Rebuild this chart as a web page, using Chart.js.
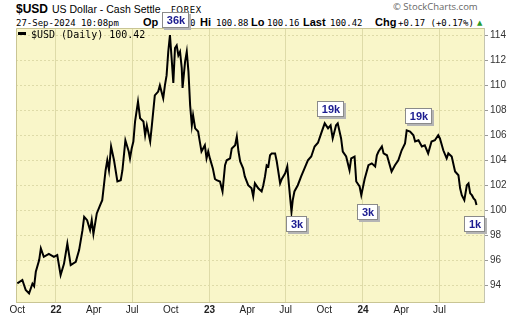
<!DOCTYPE html>
<html>
<head>
<meta charset="utf-8">
<script src="https://cdn.jsdelivr.net/npm/chart.js@4.4.1/dist/chart.umd.min.js"></script>
<style>
  body { margin: 0; background: #fff; }
  #wrap { position: relative; width: 520px; height: 318px; overflow: hidden; }
  #wrap canvas { position: absolute; left: 0; top: 0; z-index: 1; }
  .t { position: absolute; white-space: nowrap; z-index: 0; color: #000; }
  .b { font: bold 11px "Liberation Sans", Arial, sans-serif; line-height: 11px; top: 17px; }
  .n { font: 9px "DejaVu Sans Mono", monospace; line-height: 9px; top: 19px; }
  #legend { z-index: 2; left: 18px; top: 30px; font: 10px "DejaVu Sans Mono", monospace; line-height: 10px; }
  #legend i { display: inline-block; width: 8px; height: 3px; background: #000; vertical-align: 3px; margin-right: 5px; }
</style>
</head>
<body>
<div id="wrap">
  <span class="t" style="left:16px;top:3px;font:bold 12px 'Liberation Sans',Arial;line-height:12px">$USD</span>
  <span class="t" style="left:52px;top:4px;font:10.5px 'Liberation Sans',Arial;line-height:10.5px">US Dollar - Cash Settle</span>
  <span class="t" style="left:171px;top:6px;font:8.5px 'DejaVu Sans',Verdana;line-height:8.5px;letter-spacing:0.4px">FOREX</span>
  <span class="t" style="left:393px;top:2px;font:9.5px 'Open Sans',sans-serif;line-height:9.5px;color:#666">© StockCharts.com</span>
  <span class="t n" style="left:16px">27-Sep-2024 10:08pm</span>
  <span class="t b" style="left:143px">Op</span>
  <span class="t n" style="left:163px">100.30</span>
  <span class="t b" style="left:200px">Hi</span>
  <span class="t n" style="left:216px">100.88</span>
  <span class="t b" style="left:251px">Lo</span>
  <span class="t n" style="left:267px">100.16</span>
  <span class="t b" style="left:303px">Last</span>
  <span class="t n" style="left:330px">100.42</span>
  <span class="t b" style="left:375px">Chg</span>
  <span class="t n" style="left:398px">+0.17 (+0.17%)</span>
  <span class="t" style="left:477px;top:20px;font:7px 'DejaVu Sans';line-height:7px;color:#2a9a2a">▲</span>
  <span class="t" id="legend"><i></i>$USD (Daily) 100.42</span>
  <canvas id="chart" width="520" height="318"></canvas>
</div>
<script>
// daily close readings of $USD
var dates = [
  '2021-10-01','2021-10-13','2021-10-21','2021-10-29','2021-11-06','2021-11-10','2021-11-14','2021-11-22','2021-11-26',
  '2021-12-03','2021-12-15','2021-12-27','2022-01-04','2022-01-12','2022-01-20','2022-01-28','2022-02-05','2022-02-17',
  '2022-02-25','2022-03-05','2022-03-09','2022-03-16','2022-03-23','2022-03-27','2022-03-31','2022-04-08','2022-04-16',
  '2022-04-21','2022-04-29','2022-05-03','2022-05-07','2022-05-12','2022-05-19','2022-05-27','2022-06-04','2022-06-08',
  '2022-06-15','2022-06-23','2022-06-26','2022-06-30','2022-07-04','2022-07-08','2022-07-15','2022-07-20','2022-07-28',
  '2022-08-01','2022-08-05','2022-08-13','2022-08-17','2022-08-24','2022-09-01','2022-09-05','2022-09-13','2022-09-17',
  '2022-09-21','2022-09-25','2022-09-29','2022-10-03','2022-10-07','2022-10-11','2022-10-15','2022-10-19','2022-10-23',
  '2022-10-27','2022-10-29','2022-11-04','2022-11-08','2022-11-12','2022-11-16','2022-11-20','2022-11-23','2022-11-28',
  '2022-12-05','2022-12-09','2022-12-13','2022-12-21','2022-12-25','2022-12-29','2023-01-02','2023-01-09','2023-01-14',
  '2023-01-18','2023-01-26','2023-02-01','2023-02-07','2023-02-11','2023-02-19','2023-02-23','2023-03-03','2023-03-07',
  '2023-03-11','2023-03-15','2023-03-22','2023-03-26','2023-04-03','2023-04-11','2023-04-15','2023-04-19','2023-04-27',
  '2023-05-05','2023-05-09','2023-05-13','2023-05-17','2023-05-21','2023-05-25','2023-05-29','2023-06-06','2023-06-10',
  '2023-06-18','2023-06-22','2023-06-30','2023-07-05','2023-07-09','2023-07-15','2023-07-18','2023-07-22','2023-07-30',
  '2023-08-07','2023-08-15','2023-08-23','2023-08-31','2023-09-08','2023-09-16','2023-09-24','2023-10-02','2023-10-10',
  '2023-10-16','2023-10-21','2023-10-29','2023-11-02','2023-11-10','2023-11-14','2023-11-22','2023-11-30','2023-12-04',
  '2023-12-12','2023-12-16','2023-12-24','2023-12-28','2024-01-05','2024-01-14','2024-01-22','2024-01-30','2024-02-03',
  '2024-02-07','2024-02-15','2024-02-19','2024-02-27','2024-03-09','2024-03-17','2024-03-25','2024-04-02','2024-04-10',
  '2024-04-14','2024-04-22','2024-04-30','2024-05-04','2024-05-12','2024-05-20','2024-05-27','2024-06-04','2024-06-12',
  '2024-06-20','2024-06-28','2024-07-02','2024-07-10','2024-07-18','2024-07-22','2024-07-30','2024-08-07','2024-08-15',
  '2024-08-19','2024-08-23','2024-08-29','2024-09-04','2024-09-08','2024-09-12','2024-09-16','2024-09-20','2024-09-24',
  '2024-09-27'
];
var usd = [
  94.13, 94.4, 93.6, 93.33, 94.1, 93.9, 95.06, 96.0, 96.94,
  96.26, 96.5, 96.26, 96.4, 94.8, 95.7, 97.33, 95.6, 95.86,
  96.8, 98.4, 99.47, 99.2, 98.4, 99.2, 98.1, 99.74, 100.4,
  100.8, 103.2, 104.0, 103.2, 105.1, 104.0, 102.3, 102.4, 103.2,
  105.6, 104.7, 104.15, 104.95, 105.5, 107.1, 108.7, 107.36, 107.1,
  106.0, 106.8, 105.5, 106.8, 109.2, 109.5, 110.0, 108.96, 110.0,
  110.8, 112.7, 114.04, 112.17, 110.2, 113.0, 113.2, 112.4, 112.7,
  111.4, 109.8, 111.9, 112.7, 111.1, 108.4, 106.8, 107.6, 106.56,
  106.3, 105.5, 104.7, 105.2, 104.15, 104.7, 104.15, 103.35, 102.5,
  102.4, 102.3, 101.5, 103.6, 104.0, 104.15, 104.95, 105.2, 105.9,
  104.7, 103.9, 103.35, 102.7, 102.0, 101.75, 101.1, 102.15, 101.75,
  101.5, 102.0, 102.7, 103.6, 103.5, 104.4, 104.55, 104.55, 103.9,
  102.15, 102.5, 102.95, 103.5, 102.0, 99.87, 100.8, 101.5, 102.0,
  102.7, 103.35, 104.0, 104.3, 105.1, 105.4, 106.2, 106.96, 106.56,
  106.8, 105.75, 106.8, 106.96, 105.75, 104.7, 104.3, 103.2, 104.15,
  104.3, 102.3, 101.9, 101.2, 102.5, 103.6, 103.75, 103.5, 104.4,
  104.7, 105.1, 104.55, 104.4, 103.1, 103.6, 104.0, 104.8, 105.35,
  106.4, 106.3, 106.0, 105.5, 105.6, 105.1, 105.2, 104.55, 105.5,
  105.6, 106.0, 105.75, 104.8, 104.15, 104.55, 104.3, 103.1, 102.8,
  101.75, 101.2, 100.8, 102.0, 102.15, 101.35, 101.2, 100.95, 100.8,
  100.42
];

var tickDates = ['2021-10-01','2022-01-01','2022-04-01','2022-07-01','2022-10-01','2023-01-01',
                 '2023-04-01','2023-07-01','2023-10-01','2024-01-01','2024-04-01','2024-07-01'];
var tickLabels = ['Oct','22','Apr','Jul','Oct','23','Apr','Jul','Oct','24','Apr','Jul'];
var yTicks = [94, 96, 98, 100, 102, 104, 106, 108, 110, 112, 114];

// volume callouts
var noteDates = ['2022-09-29','2023-10-02','2023-07-15','2023-12-28','2024-04-14','2024-09-27'];
var noteText = ['36k','19k','3k','3k','19k','1k'];
var noteOffsets = [[6,-15],[6,-14],[6,12],[7,17],[12,-14],[-2,19]];

var BASE = Date.UTC(2022, 0, 1);
function dayNum(s) {
  var p = s.split('-').map(Number);
  return (Date.UTC(p[0], p[1] - 1, p[2]) - BASE) / 86400000;
}

var tickDays = tickDates.map(dayNum);
var gridDays = tickDays.filter(function (d, i) { return /^\d+$/.test(tickLabels[i]) || tickLabels[i] === 'Jul'; });
var points = dates.map(function (d, i) { return { x: dayNum(d), y: usd[i] }; });

var BG = '#f9f6c9';
var GRID = '#dedba8';
var FRAME = '#c9c594';

var plotBg = {
  id: 'plotBg',
  beforeDraw: function (chart) {
    var a = chart.chartArea, c = chart.ctx;
    c.save();
    c.fillStyle = BG;
    c.fillRect(a.left, a.top, a.right - a.left, a.bottom - a.top);
    c.restore();
  },
  afterDatasetsDraw: function (chart) {
    var a = chart.chartArea, c = chart.ctx;
    c.save();
    c.strokeStyle = FRAME;
    c.lineWidth = 1;
    c.beginPath();
    c.moveTo(a.left + 0.5, a.bottom);
    c.lineTo(a.left + 0.5, a.top + 0.5);
    c.lineTo(a.right, a.top + 0.5);
    c.moveTo(a.left, a.bottom + 0.5);
    c.lineTo(a.right, a.bottom + 0.5);
    c.stroke();
    c.restore();
  }
};

var notes = {
  id: 'notes',
  afterDraw: function (chart) {
    var c = chart.ctx, xs = chart.scales.x, ys = chart.scales.y;
    c.save();
    c.font = 'bold 11px "Liberation Sans", Arial, sans-serif';
    c.textAlign = 'center';
    c.textBaseline = 'middle';
    noteDates.forEach(function (d, i) {
      var v = usd[dates.indexOf(d)];
      var cx = Math.round(xs.getPixelForValue(dayNum(d)) + noteOffsets[i][0]);
      var cy = Math.round(ys.getPixelForValue(v) + noteOffsets[i][1]);
      var w = Math.round(c.measureText(noteText[i]).width) + 9, h = 16;
      var x0 = cx - Math.round(w / 2), y0 = cy - h / 2;
      c.fillStyle = '#b5b5b5';
      c.fillRect(x0 + 2, y0 + 2, w, h);
      c.fillStyle = '#fff';
      c.fillRect(x0, y0, w, h);
      c.strokeStyle = '#8a8a8a';
      c.lineWidth = 1;
      c.strokeRect(x0 + 0.5, y0 + 0.5, w - 1, h - 1);
      c.fillStyle = '#1b1b90';
      c.fillText(noteText[i], cx, cy + 1);
    });
    c.restore();
  }
};

var ctx = document.getElementById('chart');
var usdChart = new Chart(ctx, {
  type: 'line',
  data: {
    datasets: [{
      data: points,
      borderColor: '#000',
      borderWidth: 2,
      pointRadius: 0,
      tension: 0,
      fill: false
    }]
  },
  options: {
    responsive: false,
    animation: false,
    layout: { padding: { left: 16, top: 28, right: 0, bottom: 0 } },
    plugins: { legend: { display: false }, tooltip: { enabled: false } },
    scales: {
      x: {
        type: 'linear',
        min: -95.1,
        max: 1017.8,
        afterBuildTicks: function (s) { s.ticks = tickDays.map(function (v) { return { value: v }; }); },
        afterFit: function (s) { s.height = 16; },
        grid: {
          color: function (c) { return c.tick && gridDays.indexOf(c.tick.value) >= 0 ? GRID : 'rgba(0,0,0,0)'; },
          drawTicks: false
        },
        border: { display: false },
        ticks: {
          autoSkip: false,
          maxRotation: 0,
          padding: 2,
          color: '#222',
          font: function (c) {
            return { family: '"Liberation Sans", Arial, sans-serif', size: 10, weight: /^\d+$/.test(tickLabels[c.index]) ? 'bold' : 'normal' };
          },
          callback: function (v, i) { return tickLabels[i]; }
        }
      },
      y: {
        position: 'right',
        min: 92.64,
        max: 114.6,
        afterBuildTicks: function (s) { s.ticks = yTicks.map(function (v) { return { value: v }; }); },
        afterFit: function (s) { s.width = 36; },
        grid: { color: GRID, tickColor: '#999', tickLength: 4 },
        border: { display: true, color: '#c4c4b0', dash: [2, 2] },
        ticks: {
          padding: 2,
          color: '#333',
          font: { family: '"Liberation Sans", Arial, sans-serif', size: 10 }
        }
      }
    }
  },
  plugins: [plotBg, notes]
});
</script>
</body>
</html>
